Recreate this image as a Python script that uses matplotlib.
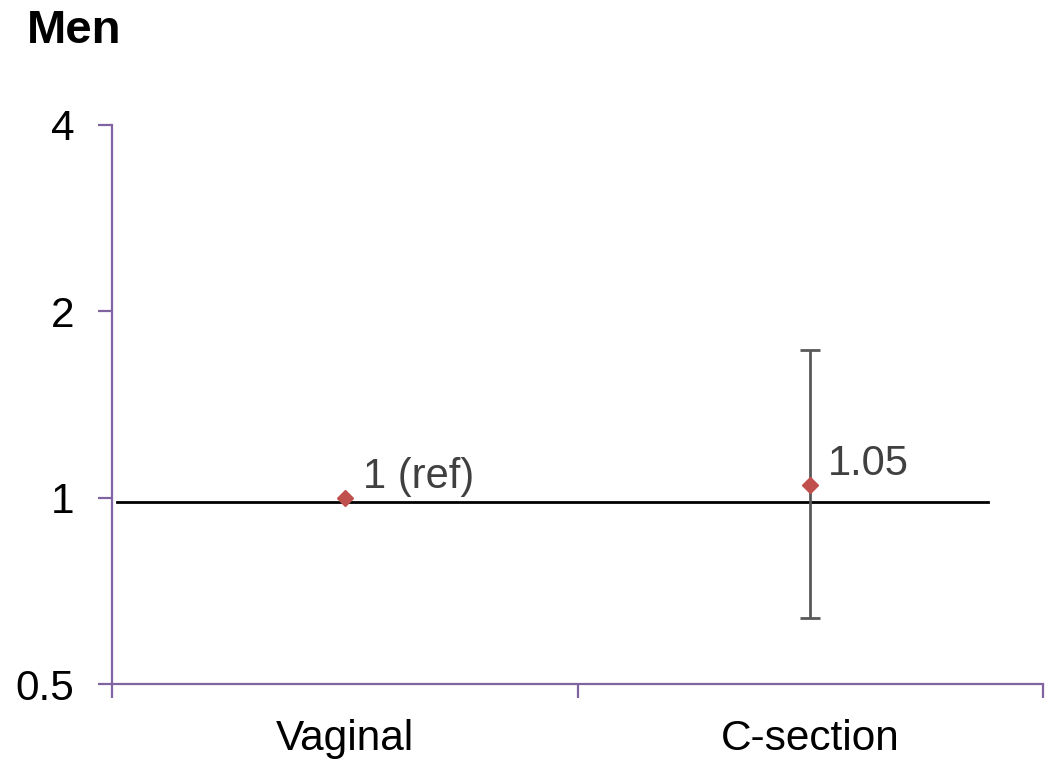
import matplotlib
matplotlib.use("Agg")
import matplotlib.pyplot as plt
from matplotlib.ticker import FixedLocator, FixedFormatter, NullLocator

# Odds ratios by delivery mode (men)
categories = ["Vaginal", "C-section"]
odds_ratio = [1.0, 1.05]
ci_lower = [None, 0.64]
ci_upper = [None, 1.73]
point_labels = ["1 (ref)", "1.05"]
ref_line = 0.985
y_ticks = [0.5, 1, 2, 4]
y_tick_labels = ["0.5", "1", "2", "4"]

plt.rcParams["font.family"] = ["Liberation Sans", "DejaVu Sans"]

fig = plt.figure(figsize=(10.56, 7.6), dpi=100)
ax = fig.add_axes([112 / 1056, 1 - 684.3 / 760, (1043 - 112) / 1056, (684.3 - 125) / 760])

ax.set_yscale("log")
ax.set_ylim(0.5, 4)
ax.set_xlim(-0.5, 1.5)

# reference line
ax.axhline(ref_line, xmin=0.005, xmax=0.941, color="black", lw=2, zorder=1)

# confidence intervals
for i, (lo, hi, v) in enumerate(zip(ci_lower, ci_upper, odds_ratio)):
    if lo is not None:
        ax.errorbar(i, v, yerr=[[v - lo], [hi - v]], fmt="none", ecolor="#595959",
                    elinewidth=2, capsize=7, capthick=2, zorder=2)

# point estimates
ax.plot(range(len(categories)), odds_ratio, linestyle="none", marker="D",
        markersize=8, color="#C0504D", zorder=3)

for i, (v, lab) in enumerate(zip(odds_ratio, point_labels)):
    ax.annotate(lab, (i, v), xytext=(18, 21), textcoords="offset pixels",
                ha="left", va="center", fontsize=30, color="#404040")

# axes styling
for side in ["top", "right"]:
    ax.spines[side].set_visible(False)
for side in ["left", "bottom"]:
    ax.spines[side].set_color("#8064A2")
    ax.spines[side].set_linewidth(1.6)

ax.yaxis.set_major_locator(FixedLocator(y_ticks))
ax.yaxis.set_major_formatter(FixedFormatter(y_tick_labels))
ax.yaxis.set_minor_locator(NullLocator())
ax.tick_params(axis="y", length=10, width=1.6, color="#8064A2", labelsize=30.5, pad=17)

ax.xaxis.set_major_locator(FixedLocator([-0.5, 0.5, 1.5]))
ax.xaxis.set_major_formatter(FixedFormatter(["", "", ""]))
ax.xaxis.set_minor_locator(FixedLocator(range(len(categories))))
ax.xaxis.set_minor_formatter(FixedFormatter(categories))
ax.tick_params(axis="x", which="major", length=10, width=1.6, color="#8064A2")
ax.tick_params(axis="x", which="minor", length=0, labelsize=30.5, pad=25)

fig.text(27 / 1056, 1 - 9 / 760, "Men", fontsize=34, fontweight="bold",
         ha="left", va="top")

fig.savefig("out.png", dpi=100, facecolor="white")
